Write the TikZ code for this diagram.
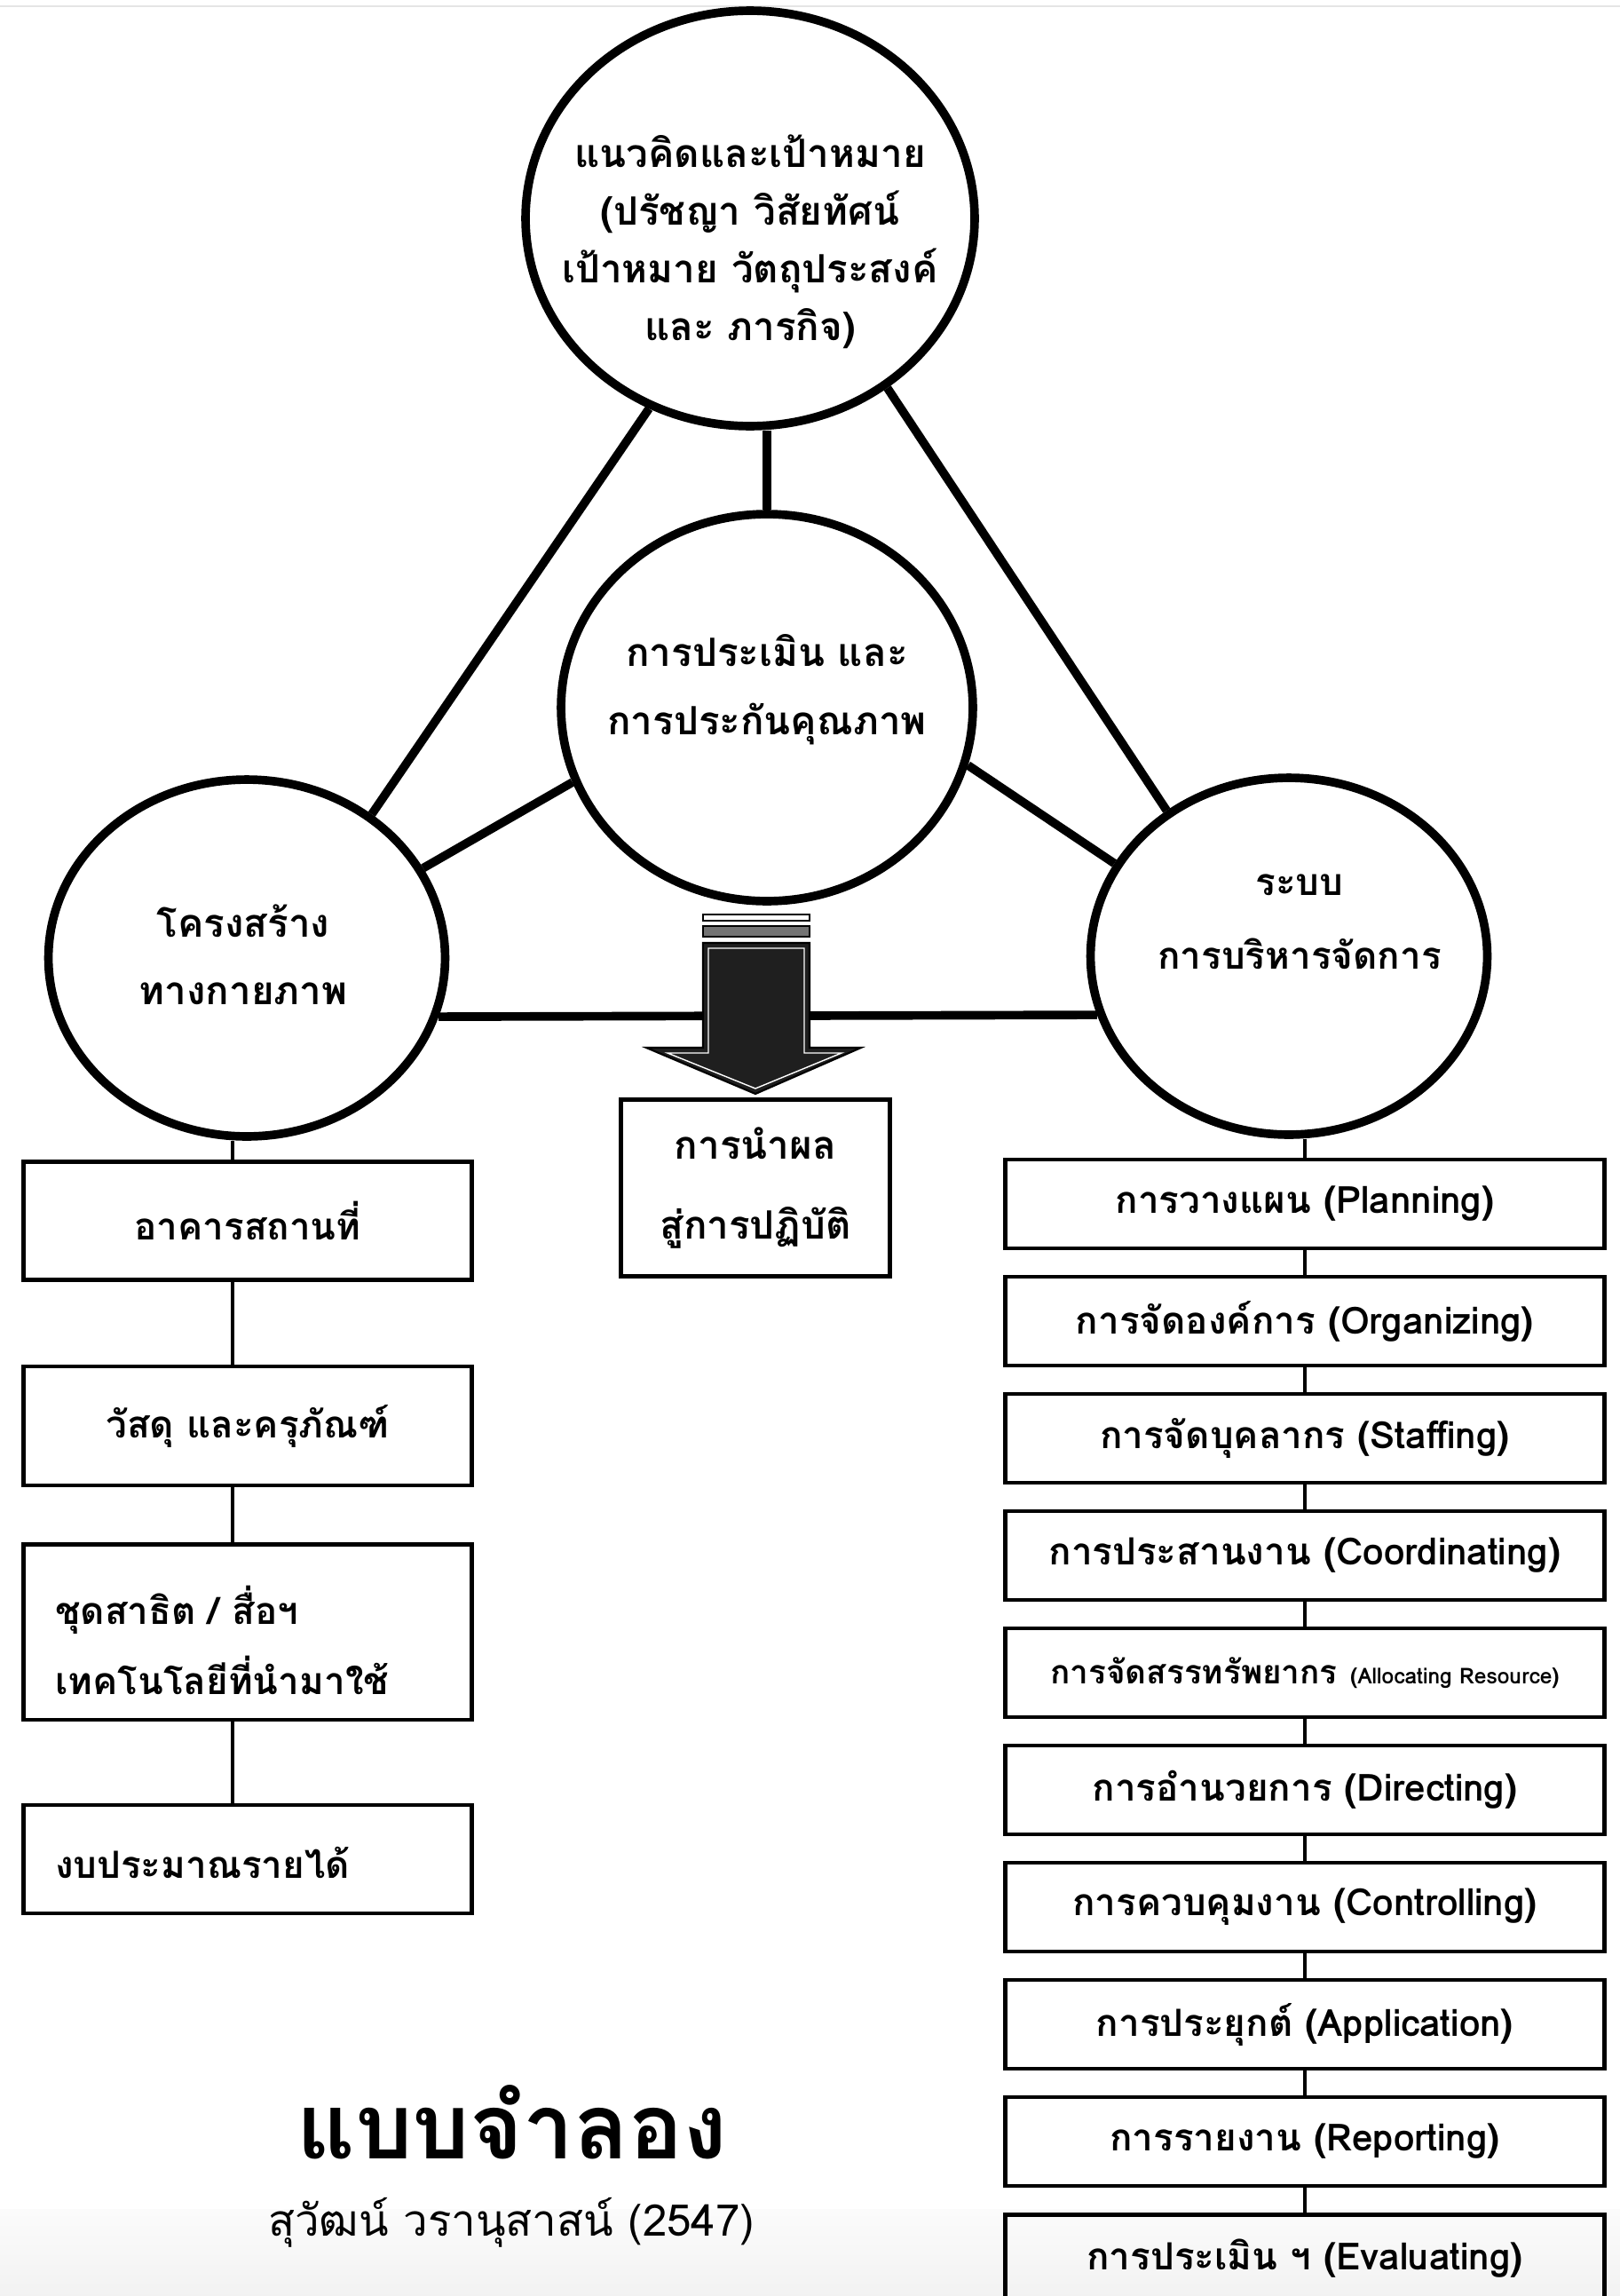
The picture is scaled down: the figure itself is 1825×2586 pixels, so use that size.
\documentclass[tikz,border=0pt]{standalone}
\usepackage{fontspec}
\setmainfont[Script=Thai]{Loma}
\usetikzlibrary{shapes.geometric,calc}

\newcommand{\circfont}{\fontsize{25}{37}\selectfont\bfseries}
\newcommand{\boxfont}{\fontsize{24}{45}\selectfont\bfseries}
\newcommand{\tinyfont}{\fontsize{14}{16}\selectfont}

\begin{document}
\begin{tikzpicture}[x=0.02cm,y=-0.02cm,
	circ/.style={ellipse,draw,line width=5.5pt,inner sep=0pt},
	link/.style={line width=5.5pt},
	box/.style={draw,line width=2.8pt,inner sep=0pt,align=center,font=\boxfont},
	chain/.style={line width=1.8pt}]
	
	\useasboundingbox (0,0) rectangle (1825,2586);
	
	%----------------------------------------
	% Page band
	%----------------------------------------
	\shade[top color=gray!3,bottom color=gray!10] (0,2488) rectangle (1825,2586);
	\draw[gray!20,line width=1pt] (0,7) -- (1825,7);
	
	%----------------------------------------
	% Circles
	%----------------------------------------
	\node[circ,minimum width=10.12cm,minimum height=9.36cm] (goal) at (845,246) {};
	\node[circ,minimum width=9.28cm,minimum height=8.72cm] (qa) at (864,797) {};
	\node[circ,minimum width=8.94cm,minimum height=8.04cm] (phys) at (278,1079) {};
	\node[circ,minimum width=8.94cm,minimum height=8.04cm] (mgmt) at (1452,1077) {};
	
	\node[align=center,font=\circfont] (goaltxt) at (845,272)
	{แนวคิดและเป้าหมาย\\(ปรัชญา วิสัยทัศน์\\เป้าหมาย วัตถุประสงค์\\และ ภารกิจ)};
	\node[align=center,font=\fontsize{25}{44}\selectfont\bfseries] (qatxt) at (864,777)
	{การประเมิน และ\\การประกันคุณภาพ};
	\node[align=center,font=\fontsize{25}{43}\selectfont\bfseries] (phystxt) at (274,1075)
	{โครงสร้าง\\ทางกายภาพ};
	\node[align=center,font=\fontsize{24}{47}\selectfont\bfseries] (mgmttxt) at (1464,1038)
	{ระบบ\\การบริหารจัดการ};
	
	%----------------------------------------
	% Triangle links
	%----------------------------------------
	\draw[link] (goal.-118.7) -- (phys.49.7);
	\draw[link] (goal.-51.2) -- (mgmt.130.6);
	\draw[link] (qa.north) -- (qa.north |- goal.south);
	\draw[link] (qa.201.5) -- (phys.27.6);
	\draw[link] (qa.344.7) -- (mgmt.152.5);
	\draw[link] (phys.-17) -- (mgmt.197);
	
	%----------------------------------------
	% Block arrow down to practice
	%----------------------------------------
	\draw[line width=1.2pt,fill=white] (792,1030) rectangle (912,1037);
	\draw[line width=1pt,fill=black!55] (792,1043) rectangle (912,1055);
	\draw[line width=1.2pt,fill=black!88]
	(792,1062) -- (912,1062) -- (912,1180) -- (970,1180) -- (851,1232)
	-- (728,1180) -- (792,1180) -- cycle;
	\draw[white,line width=0.8pt]
	(798,1068) -- (906,1068) -- (906,1186) -- (948,1186) -- (851,1226)
	-- (752,1186) -- (798,1186) -- cycle;
	
	\node[box,minimum width=6.06cm,minimum height=3.98cm,
	font=\fontsize{25}{51}\selectfont\bfseries] (apply) at (851,1338)
	{การนำผล\\สู่การปฏิบัติ};
	
	%----------------------------------------
	% Physical structure column
	%----------------------------------------
	\coordinate (lx) at (262,0);
	\node[box,minimum width=10.12cm,minimum height=2.66cm] (p1) at (279,1375) {อาคารสถานที่};
	\node[box,minimum width=10.12cm,minimum height=2.68cm] (p2) at (279,1606) {วัสดุ และครุภัณฑ์};
	\node[box,minimum width=10.12cm,minimum height=3.96cm] (p3) at (279,1838) {};
	\node[box,minimum width=10.12cm,minimum height=2.44cm] (p4) at (279,2094) {};
	\node[anchor=west,align=left,font=\boxfont] (p3txt) at (56,1847)
	{ชุดสาธิต / สื่อฯ\\เทคโนโลยีที่นำมาใช้};
	\node[anchor=west,font=\boxfont] (p4txt) at (56,2098) {งบประมาณรายได้};
	
	\draw[chain] (phys.south -| lx) -- (p1.north -| lx);
	\draw[chain] (p1.south -| lx) -- (p2.north -| lx);
	\draw[chain] (p2.south -| lx) -- (p3.north -| lx);
	\draw[chain] (p3.south -| lx) -- (p4.north -| lx);
	
	%----------------------------------------
	% Management column
	%----------------------------------------
	\foreach \lbl [count=\i] in {
		การวางแผน (Planning),
		การจัดองค์การ (Organizing),
		การจัดบุคลากร (Staffing),
		การประสานงาน (Coordinating),
		{{\fontsize{21}{24}\selectfont การจัดสรรทรัพยากร} {\tinyfont (Allocating Resource)}},
		การอำนวยการ (Directing),
		การควบคุมงาน (Controlling),
		การประยุกต์ (Application),
		การรายงาน (Reporting),
		การประเมิน ฯ (Evaluating)}
	\node[box,minimum width=13.5cm,minimum height=2cm] (m\i) at (1470,{1356+132*(\i-1)}) {\lbl};
	
	\draw[chain] (mgmt.south -| m1.north) -- (m1.north);
	\foreach \i [evaluate=\i as \j using int(\i+1)] in {1,...,9}
	\draw[chain] (m\i.south) -- (m\j.north);
	
	%----------------------------------------
	% Title
	%----------------------------------------
	\node[font=\fontsize{58}{62}\selectfont\bfseries] (title) at (577,2390) {แบบจำลอง};
	\node[font=\fontsize{28}{32}\selectfont] (author) at (576,2503) {สุวัฒน์ วรานุสาสน์ (2547)};
	
\end{tikzpicture}
\end{document}
